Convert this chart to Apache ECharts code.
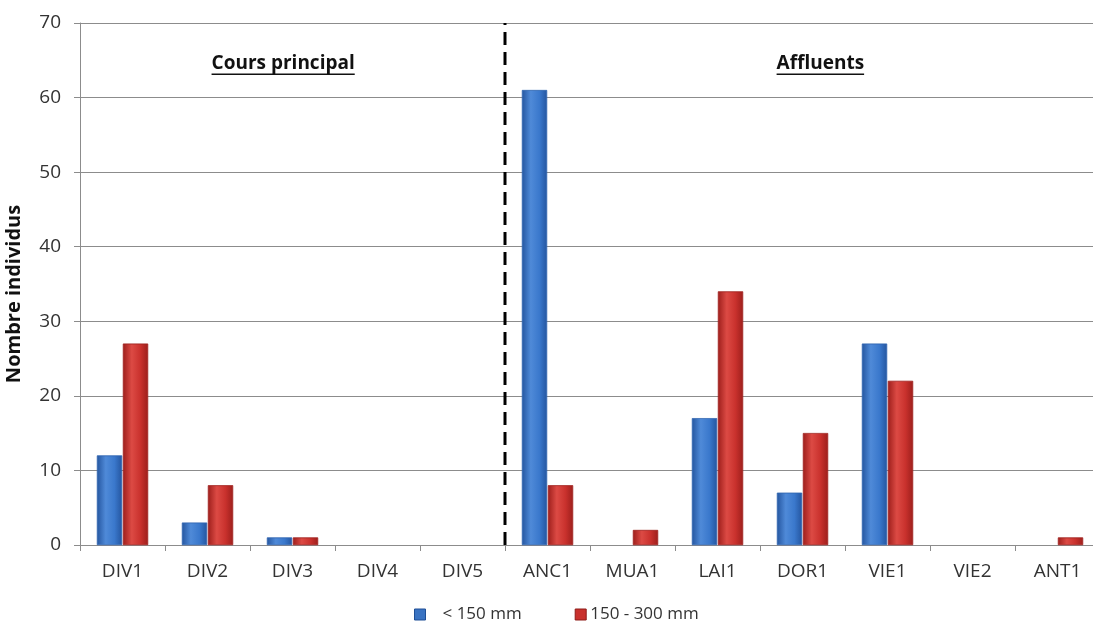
<!DOCTYPE html>
<html>
<head>
<meta charset="utf-8">
<script src="https://cdn.jsdelivr.net/npm/echarts@6/dist/echarts.min.js"></script>
<style>
  html, body { margin: 0; padding: 0; background: #fff; }
  #chart { width: 1093px; height: 626px; }
</style>
</head>
<body>
<div id="chart"></div>
<script>
// Stations along the river: main course first, then tributaries
const stations = ['DIV1', 'DIV2', 'DIV3', 'DIV4', 'DIV5', 'ANC1', 'MUA1', 'LAI1', 'DOR1', 'VIE1', 'VIE2', 'ANT1'];
// Individuals counted per size class
const small = [12, 3, 1, 0, 0, 61, 0, 17, 7, 27, 0, 0];       // < 150 mm
const medium = [27, 8, 1, 0, 0, 8, 2, 34, 15, 22, 0, 1];      // 150 - 300 mm
const seriesNames = ['< 150 mm', '150 - 300 mm'];
const yTicks = { min: 0, max: 70, interval: 10 };
// Boundary between main-course and tributary stations (in category units)
const separatorAt = 5;
const sectionTitles = ['Cours principal', 'Affluents'];
// Where each section title sits, in category units along x and in counts along y
const sectionTitleX = [2.39, 8.71];
const sectionTitleY = 64.6;

const FONT = '"Open Sans", "Noto Sans", sans-serif';

// Empty counts draw no bar at all
const asBars = arr => arr.map(v => (v === 0 ? '-' : v));

function barGradient(dark, mid, light) {
  return new echarts.graphic.LinearGradient(0, 0, 1, 0, [
    { offset: 0, color: dark },
    { offset: 0.35, color: light },
    { offset: 0.7, color: mid },
    { offset: 1, color: dark }
  ]);
}
const blueFill = barGradient('#2556a0', '#3a78cc', '#4f8ad8');
const redFill = barGradient('#9e1f1c', '#c9312d', '#dc4a44');

const chart = echarts.init(document.getElementById('chart'));

chart.setOption({
  animation: false,
  grid: { left: 80, top: 23, right: -7, bottom: 81, containLabel: false, outerBoundsMode: 'none' },
  legend: {
    bottom: -2,
    left: 409,
    itemWidth: 11,
    itemHeight: 11,
    itemGap: 53,
    textStyle: { fontFamily: FONT, fontSize: 17, color: '#333' },
    data: [
      {
        name: seriesNames[0], icon: 'rect',
        itemStyle: { color: '#3a73c2', borderColor: '#1f4f96', borderWidth: 1 },
        textStyle: { padding: [0, 0, 0, 12] }
      },
      {
        name: seriesNames[1], icon: 'rect',
        itemStyle: { color: '#c9312d', borderColor: '#8e1c19', borderWidth: 1 },
        textStyle: { padding: [0, 0, 0, -1] }
      }
    ]
  },
  xAxis: [
    {
      type: 'category',
      data: stations,
      boundaryGap: true,
      axisLine: { lineStyle: { color: '#8c8c8c', width: 1 } },
      axisTick: { show: true, length: 6, lineStyle: { color: '#8c8c8c' } },
      axisLabel: { fontFamily: FONT, fontSize: 19, color: '#333', margin: 17 },
      splitLine: { show: false }
    },
    {
      type: 'value',
      min: 0,
      max: stations.length,
      show: false
    }
  ],
  yAxis: {
    type: 'value',
    min: yTicks.min,
    max: yTicks.max,
    interval: yTicks.interval,
    name: 'Nombre individus',
    nameLocation: 'middle',
    nameGap: 56,
    nameRotate: 90,
    nameTextStyle: { fontFamily: FONT, fontSize: 20, fontWeight: 'bold', color: '#111', padding: [0, 0, 0, -20] },
    axisLine: { show: true, lineStyle: { color: '#8c8c8c' } },
    axisTick: { show: true, length: 6, lineStyle: { color: '#8c8c8c' } },
    axisLabel: { fontFamily: FONT, fontSize: 19, color: '#333', margin: 19 },
    splitLine: { lineStyle: { color: '#8c8c8c', width: 1 } }
  },
  series: [
    {
      name: seriesNames[0],
      type: 'bar',
      data: asBars(small),
      barWidth: 25,
      barGap: '4%',
      itemStyle: { color: blueFill, borderColor: '#3366b0', borderWidth: 0.5 }
    },
    {
      name: seriesNames[1],
      type: 'bar',
      data: asBars(medium),
      barWidth: 25,
      itemStyle: { color: redFill, borderColor: '#a02420', borderWidth: 0.5 }
    },
    {
      name: 'separator',
      type: 'line',
      xAxisIndex: 1,
      data: [[separatorAt, yTicks.min], [separatorAt, yTicks.max]],
      symbol: 'none',
      silent: true,
      lineStyle: { color: '#000', width: 3, type: [13, 7] },
      z: 5
    }
  ]
});

// Section titles, bold and underlined
function sectionTitle(text, xPos) {
  const cx = chart.convertToPixel({ xAxisIndex: 1 }, xPos);
  const y = chart.convertToPixel({ yAxisIndex: 0 }, sectionTitleY);
  const font = 'bold 19px ' + FONT;
  const w = echarts.format.getTextRect ? echarts.format.getTextRect(text, font).width : text.length * 11;
  return {
    type: 'group',
    children: [
      { type: 'text', x: cx, y: y, style: { text: text, font: font, fill: '#111', align: 'center', verticalAlign: 'middle' } },
      { type: 'line', shape: { x1: cx - w / 2, y1: y + 11, x2: cx + w / 2, y2: y + 11 }, style: { stroke: '#111', lineWidth: 1.6 } }
    ]
  };
}

chart.setOption({
  graphic: sectionTitles.map((t, i) => sectionTitle(t, sectionTitleX[i]))
});
</script>
</body>
</html>
